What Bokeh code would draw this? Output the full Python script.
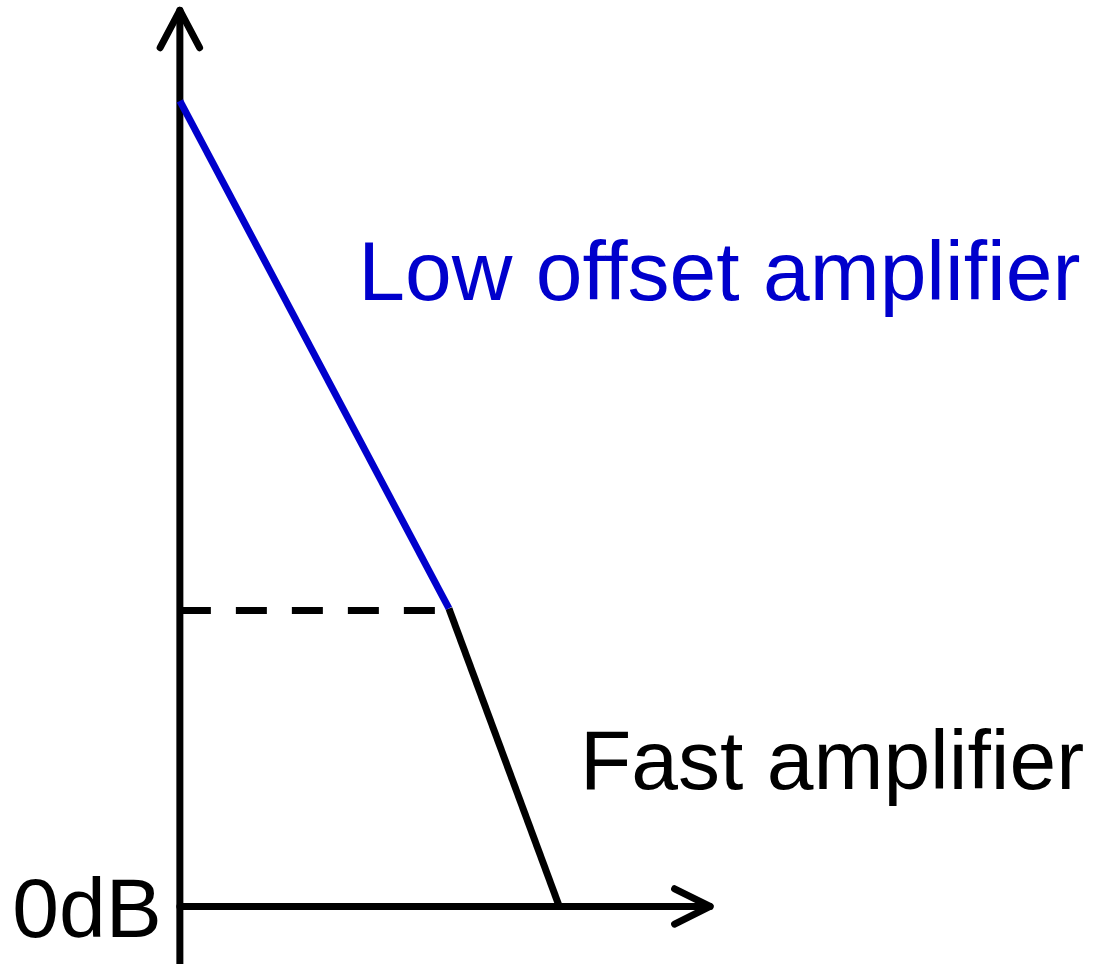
from bokeh.plotting import figure
from bokeh.models import Range1d
from bokeh.core.properties import value
from bokeh.embed import file_html
from bokeh.resources import INLINE

# Diagram coordinates (reference pixel space, y downwards)
low_offset_x = [182, 455]
low_offset_y = [102, 618]
fast_x = [455, 567]
fast_y = [618, 921]
crossover_x = [182, 455]
crossover_y = [620, 620]
yaxis_x = [182, 182]
yaxis_y = [990, 10]
yaxis_head_x = [162, 182, 202]
yaxis_head_y = [48, 10, 48]
xaxis_x = [182, 720]
xaxis_y = [921, 921]
xaxis_head_x = [684, 720, 684]
xaxis_head_y = [903, 921, 939]
labels = ["Low offset amplifier", "Fast amplifier", "0dB"]
label_x = [363, 588, 12]
label_y = [275, 772, 923]
label_colors = ["#0000cc", "#000000", "#000000"]

p = figure(width=1090, height=964, output_backend="svg", toolbar_location=None,
           x_range=Range1d(0, 1106), y_range=Range1d(980, 0),
           min_border=0, outline_line_color=None)
p.axis.visible = False
p.grid.visible = False
p.background_fill_color = "white"

lw = 7
p.line(yaxis_x, yaxis_y, line_color="black", line_width=lw, line_cap="round")
p.line(yaxis_head_x, yaxis_head_y, line_color="black", line_width=lw, line_cap="round", line_join="round")
p.line(xaxis_x, xaxis_y, line_color="black", line_width=lw, line_cap="round")
p.line(xaxis_head_x, xaxis_head_y, line_color="black", line_width=lw, line_cap="round", line_join="round")
p.line(crossover_x, crossover_y, line_color="black", line_width=lw, line_dash="31 25")
p.line(fast_x, fast_y, line_color="black", line_width=lw)
p.line(low_offset_x, low_offset_y, line_color="#0000cc", line_width=lw)

p.text(x=label_x, y=label_y, text=labels, text_color=label_colors,
       text_font=value("Liberation Sans"), text_font_size="84px",
       text_baseline="alphabetic", text_align="left")

open("out.html", "w").write(file_html(p, INLINE))
